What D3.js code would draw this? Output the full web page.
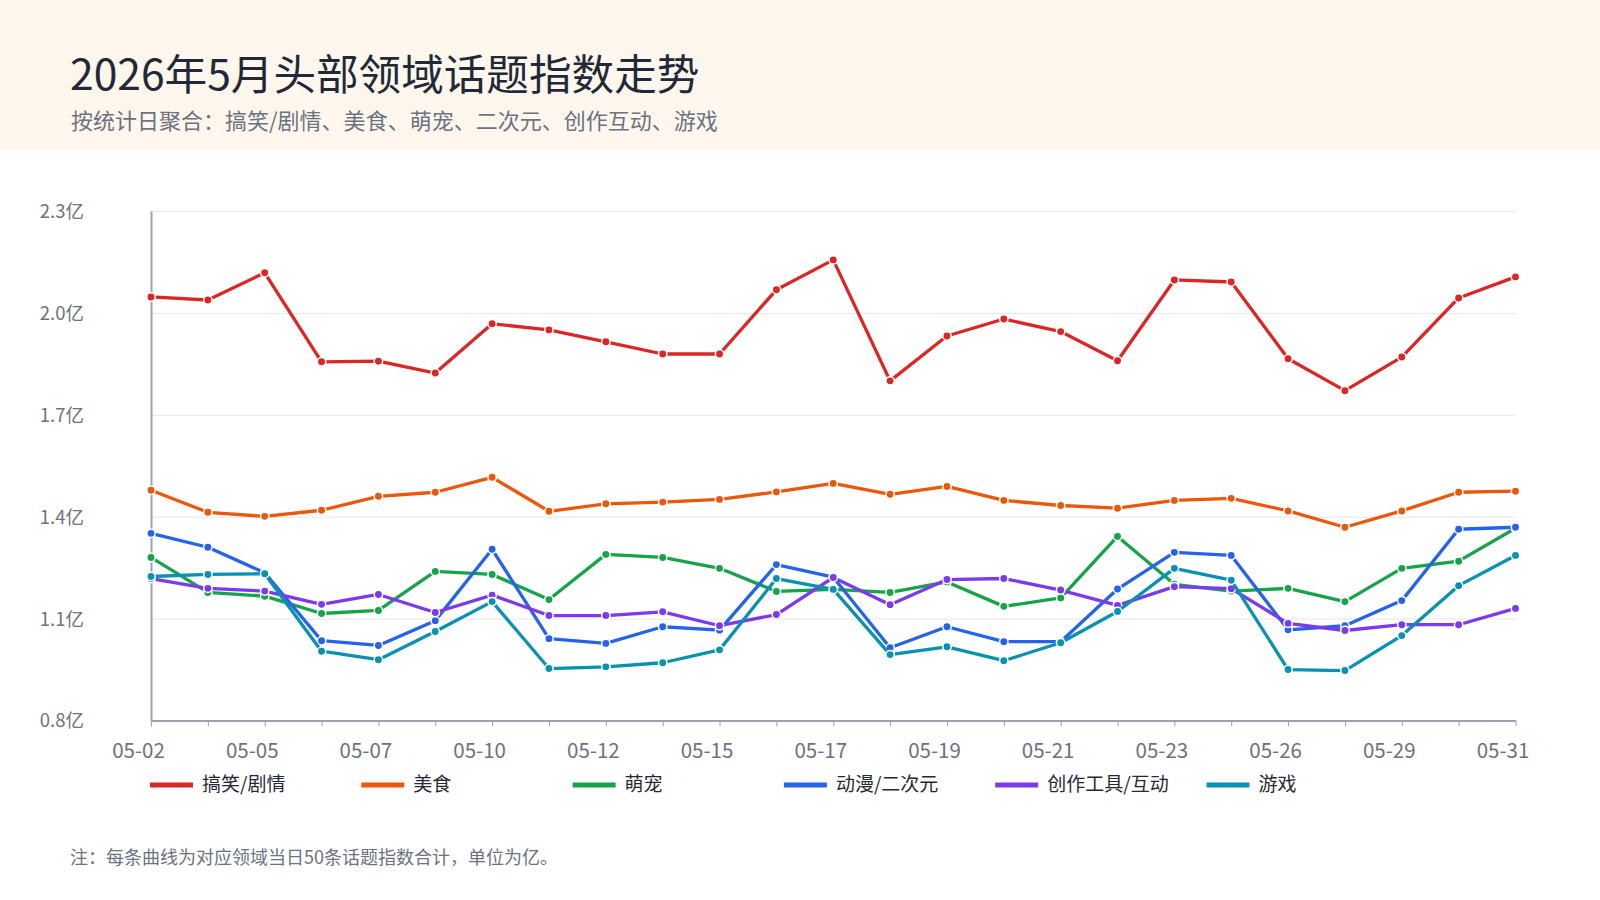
<!DOCTYPE html>
<html>
<head>
<meta charset="utf-8">
<script src="https://cdn.jsdelivr.net/npm/d3@7/dist/d3.min.js"></script>
<style>
  html, body { margin: 0; padding: 0; background: #ffffff; }
  svg { display: block; font-family: "Noto Sans CJK SC", "Noto Sans", sans-serif; }
</style>
</head>
<body>
<svg id="chart" width="1600" height="900"></svg>
<script>
// ---- data ----
const dates = ["05-02","05-03","05-05","05-06","05-07","05-09","05-10","05-11","05-12","05-14","05-15","05-16","05-17","05-18","05-19","05-20","05-21","05-22","05-23","05-25","05-26","05-28","05-29","05-30","05-31"];
const seriesNames = ["搞笑/剧情","美食","萌宠","动漫/二次元","创作工具/互动","游戏"];
const seriesColors = ["#dc2626","#ea580c","#16a34a","#2563eb","#7c3aed","#0891b2"];
const funny   = [2.047,2.038,2.118,1.856,1.858,1.823,1.968,1.950,1.915,1.879,1.879,2.068,2.156,1.800,1.932,1.982,1.945,1.859,2.097,2.091,1.865,1.771,1.870,2.044,2.106];
const food    = [1.478,1.413,1.401,1.419,1.460,1.472,1.516,1.416,1.438,1.443,1.451,1.473,1.498,1.466,1.489,1.448,1.433,1.425,1.448,1.454,1.417,1.369,1.417,1.472,1.475];
const pets    = [1.280,1.177,1.166,1.115,1.124,1.239,1.230,1.156,1.289,1.280,1.248,1.180,1.186,1.177,1.208,1.136,1.161,1.342,1.201,1.181,1.189,1.150,1.248,1.269,1.366];
const anime   = [1.351,1.310,1.235,1.035,1.021,1.094,1.304,1.041,1.027,1.076,1.066,1.259,1.222,1.014,1.076,1.032,1.032,1.187,1.295,1.286,1.067,1.079,1.153,1.363,1.369];
const creator = [1.218,1.189,1.181,1.142,1.171,1.118,1.169,1.109,1.109,1.120,1.079,1.112,1.221,1.141,1.215,1.218,1.184,1.139,1.194,1.188,1.086,1.065,1.082,1.082,1.130];
const games   = [1.224,1.230,1.232,1.004,0.979,1.062,1.150,0.953,0.958,0.970,1.008,1.218,1.186,0.994,1.017,0.976,1.029,1.121,1.248,1.213,0.950,0.947,1.050,1.197,1.286];
const seriesValues = [funny, food, pets, anime, creator, games];
const yTicks = [0.8, 1.1, 1.4, 1.7, 2.0, 2.3];
const titleText = "2026年5月头部领域话题指数走势";
const subtitleText = "按统计日聚合：搞笑/剧情、美食、萌宠、二次元、创作互动、游戏";
const noteText = "注：每条曲线为对应领域当日50条话题指数合计，单位为亿。";

// ---- layout ----
const svg = d3.select("#chart");
const W = 1600, H = 900;
const plot = { left: 151, right: 1515.5, top: 211, bottom: 720.5 };

// header
svg.append("rect").attr("x", 0).attr("y", 0).attr("width", W).attr("height", 150).attr("fill", "#fff7ed");
svg.append("text").attr("x", 70).attr("y", 78).attr("dominant-baseline", "middle")
  .attr("font-size", 42.6).attr("fill", "#1f2937").text(titleText);
svg.append("text").attr("x", 71).attr("y", 123).attr("dominant-baseline", "middle")
  .attr("font-size", 22).attr("fill", "#6b7280").text(subtitleText);

const x = d3.scalePoint().domain(dates).range([plot.left, plot.right]);
const y = d3.scaleLinear().domain([0.8, 2.3]).range([plot.bottom, plot.top]);

// gridlines
const grid = svg.append("g").attr("transform", `translate(${plot.left},0)`)
  .call(d3.axisLeft(y).tickValues(yTicks).tickSize(-(plot.right - plot.left)).tickFormat(""));
grid.select(".domain").remove();
grid.selectAll("line").attr("stroke", "#e5e7eb").attr("stroke-width", 1);

// y axis
const yAxis = svg.append("g").attr("transform", `translate(${plot.left},0)`)
  .call(d3.axisLeft(y).tickValues(yTicks).tickSize(0).tickSizeOuter(0).tickPadding(67)
    .tickFormat(d => d3.format(".1f")(d) + "亿"));
yAxis.select(".domain").attr("stroke", "#9ca3af").attr("stroke-width", 2);
yAxis.selectAll("text").attr("font-size", 18.5).attr("fill", "#6b7280")
  .attr("font-family", "Noto Sans CJK SC").attr("dy", "0.35em");

// x axis
const xAxis = svg.append("g").attr("transform", `translate(0,${plot.bottom})`)
  .call(d3.axisBottom(x).tickSize(6).tickSizeOuter(0)
    .tickFormat((d, i) => i % 2 === 0 ? d : ""));
xAxis.select(".domain").attr("stroke", "#9ca3af").attr("stroke-width", 2);
xAxis.selectAll(".tick line").attr("stroke", "#9ca3af").attr("stroke-width", 1);
xAxis.selectAll("text").attr("font-size", 20.5).attr("fill", "#6b7280")
  .attr("font-family", "Noto Sans CJK SC")
  .attr("x", -13).attr("y", 31.5).attr("dy", "0").attr("dominant-baseline", "middle");

// lines
const line = d3.line().x((d, i) => x(dates[i])).y(d => y(d));
seriesValues.forEach((vals, s) => {
  const g = svg.append("g");
  g.append("path").datum(vals).attr("d", line)
    .attr("fill", "none").attr("stroke", seriesColors[s]).attr("stroke-width", 3.3)
    .attr("stroke-linejoin", "round");
  g.selectAll("circle").data(vals).join("circle")
    .attr("cx", (d, i) => x(dates[i])).attr("cy", d => y(d)).attr("r", 4.2)
    .attr("fill", seriesColors[s]).attr("stroke", "#ffffff").attr("stroke-width", 1.5);
});

// legend
const legend = svg.append("g");
seriesNames.forEach((name, i) => {
  const lx = 150 + i * 211.3;
  legend.append("rect").attr("x", lx).attr("y", 782.5).attr("width", 43).attr("height", 5)
    .attr("fill", seriesColors[i]);
  legend.append("text").attr("x", lx + 52).attr("y", 786).attr("dominant-baseline", "middle")
    .attr("font-size", 19).attr("fill", "#1f2937").text(name);
});

// footnote
svg.append("text").attr("x", 70).attr("y", 859).attr("dominant-baseline", "middle")
  .attr("font-size", 18).attr("fill", "#6b7280").text(noteText);
</script>
</body>
</html>
